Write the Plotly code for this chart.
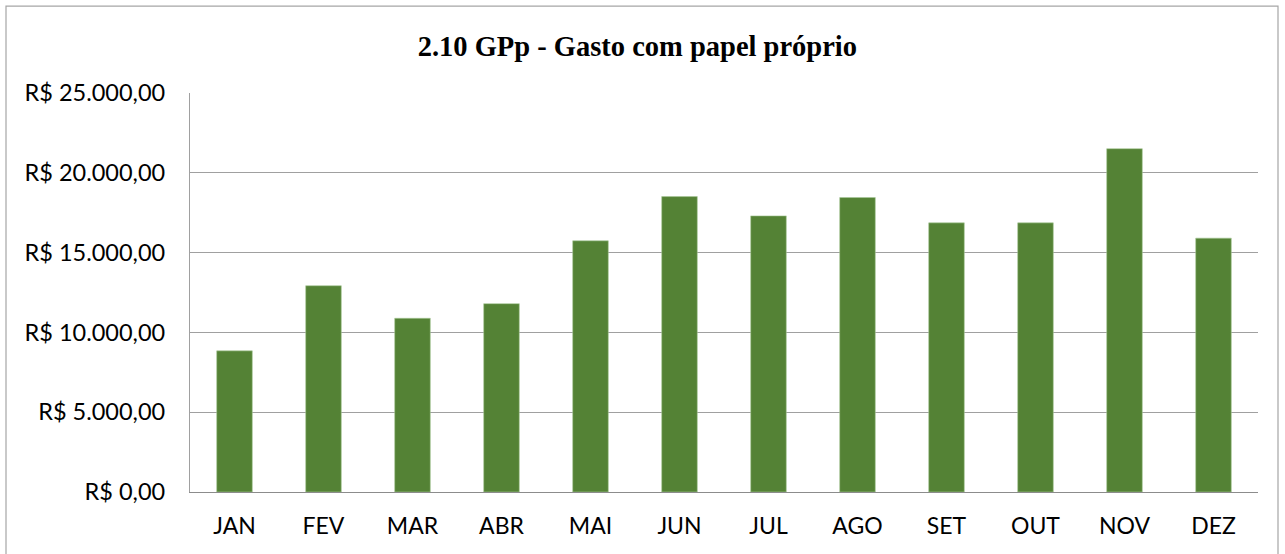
import plotly.graph_objects as go

months = ["JAN", "FEV", "MAR", "ABR", "MAI", "JUN", "JUL", "AGO", "SET", "OUT", "NOV", "DEZ"]
values = [8844, 12925, 10885, 11800, 15740, 18510, 17300, 18450, 16863, 16863, 21510, 15906]
tick_vals = [0, 5000, 10000, 15000, 20000, 25000]
tick_text = ["R$ 0,00", "R$ 5.000,00", "R$ 10.000,00", "R$ 15.000,00", "R$ 20.000,00", "R$ 25.000,00"]
title = "2.10 GPp - Gasto com papel próprio"

W, H = 1285, 554
L, R, T, B = 190, 27, 93, 61.5
pw, ph = W - L - R, H - T - B

fig = go.Figure(go.Bar(
    x=months, y=values,
    marker=dict(color="#548235", line=dict(color="#a9c99a", width=0.6)),
))

def px_to_paper_x(px):
    return (px - L) / pw

def px_to_paper_y(py):
    return (H - B - py) / ph

fig.add_shape(type="rect", xref="paper", yref="paper",
              x0=px_to_paper_x(6), x1=px_to_paper_x(1278),
              y0=px_to_paper_y(600), y1=px_to_paper_y(6),
              line=dict(color="#a6a6a6", width=1.2), fillcolor="rgba(0,0,0,0)", layer="below")

fig.update_layout(
    width=W, height=H,
    margin=dict(l=L, r=R, t=T, b=B, pad=0),
    paper_bgcolor="white", plot_bgcolor="white",
    bargap=0.6,
    showlegend=False,
    title=dict(text="<b>" + title + "</b>", x=0.496, xref="container", xanchor="center",
               y=1 - 46 / H, yanchor="middle",
               font=dict(family="Liberation Serif", size=28.5, color="black")),
    xaxis=dict(showgrid=False, showline=True, linecolor="#8c8c8c", linewidth=1.2,
               ticks="", tickfont=dict(family="Lato", size=23, color="black"),
               ticklabelstandoff=13, fixedrange=True),
    yaxis=dict(range=[0, 25000], tickvals=tick_vals, ticktext=tick_text,
               showgrid=True, gridcolor="#a0a0a0", gridwidth=1.2,
               showline=True, linecolor="#a0a0a0", linewidth=1.2,
               zeroline=False, ticks="",
               tickfont=dict(family="Lato", size=23.5, color="black"),
               ticklabelstandoff=19, fixedrange=True),
)

fig.write_html("out.html", config={"displayModeBar": False},
               post_script="document.body.style.margin='0';document.body.style.overflow='hidden';")
